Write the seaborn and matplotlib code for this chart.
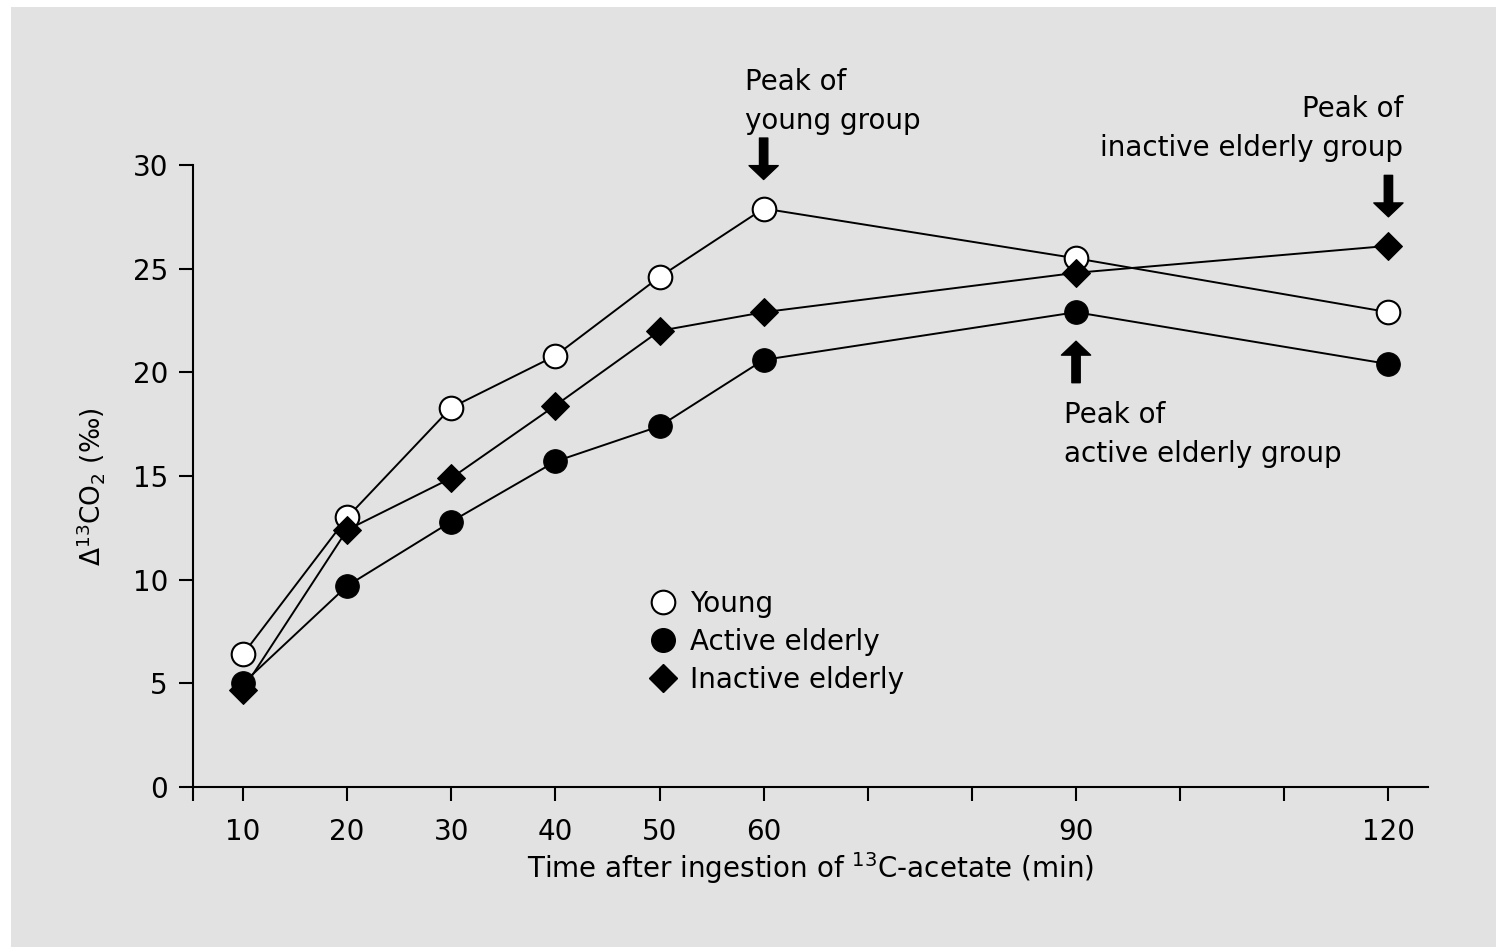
import matplotlib
matplotlib.use("Agg")
import matplotlib.pyplot as plt
import seaborn as sns
from matplotlib.lines import Line2D
from matplotlib.patches import Rectangle

# data
times = [10, 20, 30, 40, 50, 60, 90, 120]
young = [6.4, 13.0, 18.3, 20.8, 24.6, 27.9, 25.5, 22.9]
active = [5.0, 9.7, 12.8, 15.7, 17.4, 20.6, 22.9, 20.4]
inactive = [4.7, 12.4, 14.9, 18.4, 22.0, 22.9, 24.8, 26.1]

XMIN, XMAX = 5.2, 123.8
xticks = [XMIN, 10, 20, 30, 40, 50, 60, 70, 80, 90, 100, 110, 120]
xticklabels = ["", "10", "20", "30", "40", "50", "60", "", "", "90", "", "", "120"]
yticks = [0, 5, 10, 15, 20, 25, 30]

BG = "#e2e2e2"
FONT = "DejaVu Sans"
FS = 20

sns.set_style("ticks")
plt.rcParams["font.family"] = [FONT]
plt.rcParams["mathtext.fontset"] = "dejavusans"
plt.rcParams["text.color"] = "black"
plt.rcParams["axes.labelcolor"] = "black"

fig = plt.figure(figsize=(14.96, 9.47), dpi=100, facecolor="white")
fig.patches.append(Rectangle((11 / 1496, 0), 1, 1 - 7 / 947, transform=fig.transFigure,
                             facecolor=BG, edgecolor="none", zorder=-10))
ax = fig.add_axes([193 / 1496, 1 - 787 / 947, (1428 - 193) / 1496, (787 - 165) / 947])
ax.set_facecolor(BG)

LW = 1.4
sns.lineplot(x=times, y=young, color="black", linewidth=LW, marker="o", markersize=17,
             markerfacecolor="white", markeredgecolor="black", markeredgewidth=1.5, ax=ax, zorder=3)
sns.lineplot(x=times, y=inactive, color="black", linewidth=LW, marker="D", markersize=14,
             markerfacecolor="black", markeredgecolor="black", ax=ax, zorder=4)
sns.lineplot(x=times, y=active, color="black", linewidth=LW, marker="o", markersize=17,
             markerfacecolor="black", markeredgecolor="black", ax=ax, zorder=4)

ax.set_xlim(XMIN, XMAX)
ax.set_ylim(0, 30)
ax.set_xticks(xticks)
ax.set_xticklabels(xticklabels)
ax.set_yticks(yticks)
ax.tick_params(axis="both", direction="out", length=10, width=1.5, labelsize=FS,
               colors="black", labelcolor="black")
ax.tick_params(axis="x", pad=12)
ax.tick_params(axis="y", pad=8)
for s in ["top", "right"]:
    ax.spines[s].set_visible(False)
for s in ["left", "bottom"]:
    ax.spines[s].set_linewidth(1.5)
    ax.spines[s].set_color("black")

ax.set_xlabel("Time after ingestion of $^{13}$C-acetate (min)", fontsize=FS, labelpad=3)
ax.set_ylabel("Δ$^{13}$CO$_2$ (‰)", fontsize=19)
ax.yaxis.set_label_coords(-0.07, 0.482)

arrow = dict(arrowstyle="simple,head_width=2.1,head_length=1.0,tail_width=0.6",
             color="black", shrinkA=0, shrinkB=0)
ax.annotate("", xy=(60, 29.3), xytext=(60, 31.3), arrowprops=arrow, annotation_clip=False)
ax.annotate("", xy=(120, 27.5), xytext=(120, 29.5), arrowprops=arrow, annotation_clip=False)
ax.annotate("", xy=(90, 21.5), xytext=(90, 19.5), arrowprops=arrow, annotation_clip=False)

ax.text(58.2, 34.7, "Peak of\nyoung group", fontsize=FS, ha="left", va="top",
        linespacing=1.5, clip_on=False)
ax.text(121.4, 33.4, "Peak of\ninactive elderly group", fontsize=FS, ha="right", va="top",
        linespacing=1.5, multialignment="right", clip_on=False)
ax.text(88.8, 18.6, "Peak of\nactive elderly group", fontsize=FS, ha="left", va="top",
        linespacing=1.5, clip_on=False)

handles = [
    Line2D([], [], linestyle="", marker="o", markersize=17, markerfacecolor="white",
           markeredgecolor="black", markeredgewidth=1.5),
    Line2D([], [], linestyle="", marker="o", markersize=17, markerfacecolor="black",
           markeredgecolor="black"),
    Line2D([], [], linestyle="", marker="D", markersize=14, markerfacecolor="black",
           markeredgecolor="black"),
]
ax.legend(handles, ["Young", "Active elderly", "Inactive elderly"], loc="upper left",
          bbox_to_anchor=(0.36, 0.335), frameon=False, fontsize=FS, handlelength=1.0,
          handletextpad=0.5, labelspacing=0.36, borderaxespad=0)

fig.savefig("out.png", dpi=100, facecolor=fig.get_facecolor())
